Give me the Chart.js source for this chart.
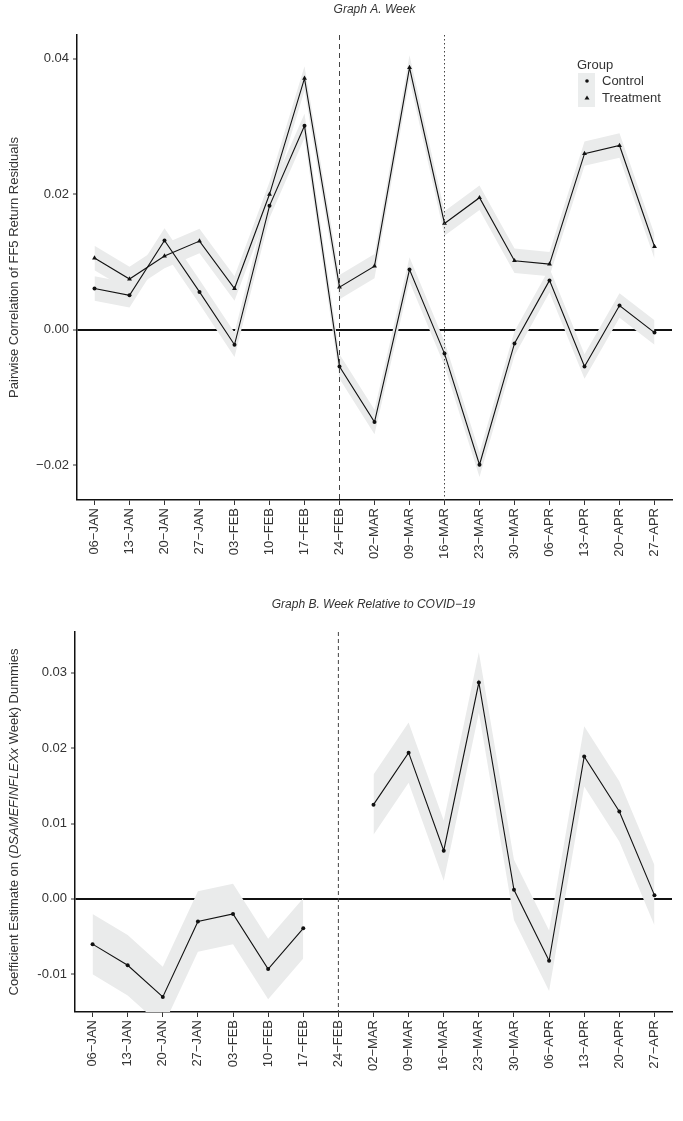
<!DOCTYPE html>
<html><head><meta charset="utf-8">
<script src="https://cdn.jsdelivr.net/npm/chart.js@4"></script>
<style>
html,body{margin:0;padding:0;background:#fff;}
#wa{position:absolute;left:0;top:0;width:683px;height:575px;}
#wb{position:absolute;left:0;top:575px;width:683px;height:546px;}
</style></head><body>
<div id="wa"><canvas id="ca"></canvas></div>
<div id="wb"><canvas id="cb"></canvas></div>
<script>
const weeks = ["06−JAN","13−JAN","20−JAN","27−JAN","03−FEB","10−FEB","17−FEB","24−FEB","02−MAR","09−MAR","16−MAR","23−MAR","30−MAR","06−APR","13−APR","20−APR","27−APR"];
const controlA = [0.0061,0.0051,0.0132,0.0056,-0.0022,0.0183,0.0301,-0.0054,-0.0136,0.0089,-0.0035,-0.0199,-0.0020,0.0073,-0.0054,0.0036,-0.0004];
const treatA   = [0.0106,0.0075,0.0109,0.0131,0.0061,0.0200,0.0371,0.0063,0.0094,0.0387,0.0157,0.0195,0.0102,0.0097,0.0260,0.0272,0.0123];
const bandA = 0.0018;
const coefB = [-0.0060,-0.0088,-0.0130,-0.0030,-0.0020,-0.0093,-0.0039,null,0.0125,0.0194,0.0064,0.0287,0.0012,-0.0082,0.0189,0.0116,0.0005];
const bandB = 0.0040;
const ticksA = [-0.02,0,0.02,0.04];
const ticksB = [-0.01,0,0.01,0.02,0.03];

const FONT = "'Liberation Sans', Arial, sans-serif";
const BAND = "rgb(234,235,235)";
const TXT = "#333";

function bandSets(vals, w){
  return [
    {data: vals.map(v=>v==null?null:v+w), borderWidth:0, borderColor:'rgba(0,0,0,0)', pointRadius:0, fill:'+1', backgroundColor:BAND, spanGaps:false, order:5},
    {data: vals.map(v=>v==null?null:v-w), borderWidth:0, borderColor:'rgba(0,0,0,0)', pointRadius:0, fill:false, spanGaps:false, order:5}
  ];
}
function lineSet(vals, style, r){
  return {data: vals, borderColor:'#111', borderWidth:1.1, pointStyle:style, pointRadius:r, pointBackgroundColor:'#111', pointBorderColor:'#111', pointBorderWidth:0, fill:false, spanGaps:false, order:0};
}

function vlinePlugin(lines){
  return {id:'vl', afterDatasetsDraw(c){
    const ctx=c.ctx, a=c.chartArea, x=c.scales.x;
    lines.forEach(l=>{
      const px=x.getPixelForValue(l.i);
      ctx.save(); ctx.strokeStyle='#444'; ctx.lineWidth=1; ctx.setLineDash(l.dash);
      ctx.beginPath(); ctx.moveTo(px,a.top); ctx.lineTo(px,a.bottom); ctx.stroke(); ctx.restore();
    });
  }};
}
function textPlugin(title, ty, drawY, extra){
  return {id:'tx', afterDraw(c){
    const ctx=c.ctx, a=c.chartArea;
    ctx.save();
    ctx.fillStyle=TXT; ctx.font="italic 12px "+FONT; ctx.textAlign='center'; ctx.textBaseline='middle';
    ctx.fillText(title,(a.left+a.right)/2,ty);
    ctx.restore();
    ctx.save();
    ctx.translate(14,(a.top+a.bottom)/2); ctx.rotate(-Math.PI/2);
    drawY(ctx);
    ctx.restore();
    if(extra) extra(c);
  }};
}
function mixed(ctx, parts){
  let total=0;
  parts.forEach(p=>{ctx.font=(p[1]?"italic ":"")+"13px "+FONT; total+=ctx.measureText(p[0]).width;});
  let x=-total/2; ctx.fillStyle=TXT; ctx.textBaseline='middle'; ctx.textAlign='left';
  parts.forEach(p=>{ctx.font=(p[1]?"italic ":"")+"13px "+FONT; ctx.fillText(p[0],x,0); x+=ctx.measureText(p[0]).width;});
}

function scalesFor(min,max,ticks,fmt,yw,xh){
  return {
    x:{type:'category', offset:true,
       grid:{display:true, drawOnChartArea:false, drawTicks:true, tickLength:5, tickColor:'#333'},
       border:{display:true, color:'#111', width:1.5},
       ticks:{color:TXT, font:{family:FONT,size:13}, minRotation:90, maxRotation:90, autoSkip:false, padding:3},
       afterFit(s){s.height=xh;}},
    y:{min:min, max:max,
       afterBuildTicks(s){s.ticks=ticks.map(v=>({value:v}));},
       grid:{drawOnChartArea:true, drawTicks:true, tickLength:4,
             color:ctx=>ctx.tick&&ctx.tick.value===0?'#111':'rgba(0,0,0,0)',
             lineWidth:ctx=>ctx.tick&&ctx.tick.value===0?2:0, tickColor:'#333', tickWidth:1},
       border:{display:true, color:'#111', width:1.5},
       ticks:{color:TXT, font:{family:FONT,size:13}, padding:4, callback:fmt},
       afterFit(s){s.width=yw;}}
  };
}

const base = {responsive:true, maintainAspectRatio:false, animation:false,
  plugins:{legend:{display:false}, tooltip:{enabled:false}, filler:{drawTime:'beforeDatasetsDraw'}}, elements:{line:{tension:0}}};

new Chart(document.getElementById('ca'),{
  type:'line',
  data:{labels:weeks, datasets:[...bandSets(controlA,bandA), ...bandSets(treatA,bandA), lineSet(controlA,'circle',2), lineSet(treatA,'triangle',2.8)]},
  options:Object.assign({},base,{
    layout:{padding:{top:35,right:11,left:0,bottom:0}},
    scales:scalesFor(-0.0251,0.0435,ticksA,v=>v===0?'0.00':(v<0?'−':'')+Math.abs(v).toFixed(2),77,75)
  }),
  plugins:[vlinePlugin([{i:7,dash:[5,4]},{i:10,dash:[1.5,2.5]}]),
    textPlugin("Graph A. Week",10,ctx=>mixed(ctx,[["Pairwise Correlation of FF5 Return Residuals",false]]),c=>{
      const ctx=c.ctx; ctx.save();
      ctx.fillStyle=TXT; ctx.font="13px "+FONT; ctx.textBaseline='middle'; ctx.textAlign='left';
      ctx.fillText("Group",577,65);
      ctx.fillStyle='#ebeded'; ctx.fillRect(578,73,17,34);
      ctx.fillStyle='#111';
      ctx.beginPath(); ctx.arc(587,81,1.8,0,Math.PI*2); ctx.fill();
      ctx.beginPath(); ctx.moveTo(587,95.5); ctx.lineTo(589.5,99.5); ctx.lineTo(584.5,99.5); ctx.closePath(); ctx.fill();
      ctx.fillStyle=TXT; ctx.font="13px "+FONT;
      ctx.fillText("Control",602,81); ctx.fillText("Treatment",602,98);
      ctx.restore();
    })]
});

new Chart(document.getElementById('cb'),{
  type:'line',
  data:{labels:weeks, datasets:[...bandSets(coefB,bandB), lineSet(coefB,'circle',2)]},
  options:Object.assign({},base,{
    layout:{padding:{top:57,right:11,left:0,bottom:0}},
    scales:scalesFor(-0.015,0.0354,ticksB,v=>v===0?'0.00':(v<0?'-':'')+Math.abs(v).toFixed(2),75,109)
  }),
  plugins:[vlinePlugin([{i:7,dash:[4,3]}]),
    textPlugin("Graph B. Week Relative to COVID−19",30,ctx=>mixed(ctx,[["Coefficient Estimate on (",false],["DSAMEFINFLEXx",true],[" Week) Dummies",false]]))]
});
</script>
</body></html>
